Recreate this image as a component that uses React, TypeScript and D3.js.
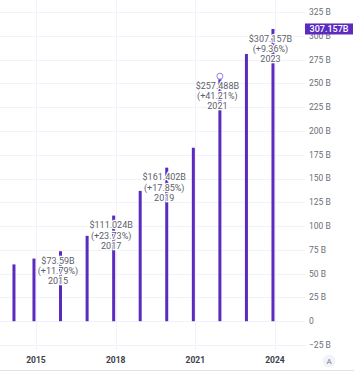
import React from 'react';
import * as d3 from 'd3';

// Annual revenue (fiscal years), billions USD
const fiscalYears = [2013, 2014, 2015, 2016, 2017, 2018, 2019, 2020, 2021, 2022, 2023];
const plotDates = ['2014-03-04', '2014-12-04', '2015-12-04', '2016-12-04', '2017-12-04', '2018-12-04',
  '2019-12-04', '2020-12-04', '2021-12-04', '2022-12-04', '2023-12-04'];
const revenues = [59.7, 65.83, 73.59, 89.73, 111.024, 136.96, 161.402, 182.34, 257.488, 280.87, 307.157];

const annotatedYears = [2015, 2017, 2019, 2021, 2023];
const annotationValues = ['$73.59B', '$111.024B', '$161.402B', '$257.488B', '$307.157B'];
const annotationGrowth = ['(+11.79%)', '(+23.73%)', '(+17.85%)', '(+41.21%)', '(+9.36%)'];

const priceTicks = [-25, 0, 25, 50, 75, 100, 125, 150, 175, 200, 225, 250, 275, 300, 325];
const timeTicks = ['2015', '2018', '2021', '2024'];
const markerYear = 2021;
const lastValueLabel = '307.157B';

const W = 354;
const H = 373;
const plotRight = 305;
const BAR = '#5b2bc0';
const FONT = 'Roboto, "Noto Sans", sans-serif';

export default function App() {
  const parse = d3.timeParse('%Y-%m-%d');
  const x = d3.scaleTime()
    .domain([new Date(2015, 0, 1), new Date(2024, 0, 1)])
    .range([36, 275]);
  const y = d3.scaleLinear().domain([-25, 325]).range([345, 12]);

  const bars = fiscalYears.map((yr, i) => ({
    yr,
    cx: x(parse(plotDates[i]) as Date),
    v: revenues[i],
  }));

  const last = bars[bars.length - 1];

  return (
    <div style={{ position: 'fixed', left: 0, top: 0, width: W, height: H, background: '#fff' }}>
      <svg width={W} height={H} style={{ display: 'block', fontFamily: FONT }}>
        <rect width={W} height={H} fill="#fff" />
        {/* grid */}
        {priceTicks.map(t => (
          <line key={'h' + t} x1={0} x2={plotRight} y1={Math.round(y(t)) + 0.5} y2={Math.round(y(t)) + 0.5}
            stroke="#f0f3fa" />
        ))}
        {timeTicks.map(t => {
          const px = Math.round(x(new Date(+t, 0, 1))) + 0.5;
          return <line key={'v' + t} x1={px} x2={px} y1={0} y2={350} stroke="#f0f3fa" />;
        })}

        {/* bars */}
        {bars.map(b => (
          <rect key={b.yr} x={b.cx - 1.5} y={y(b.v)} width={3} height={y(0) - y(b.v)} fill={BAR} />
        ))}

        {/* hover marker */}
        {bars.filter(b => b.yr === markerYear).map(b => (
          <circle key="mk" cx={b.cx} cy={y(b.v)} r={3} fill="#fff" stroke="#9a7fe0" strokeWidth={1} />
        ))}

        {/* annotations */}
        {annotatedYears.map((yr, i) => {
          const b = bars.find(d => d.yr === yr)!;
          const top = y(b.v);
          const lx = b.cx - 2.5;
          const lines = [annotationValues[i], annotationGrowth[i], String(yr)];
          return (
            <g key={'a' + yr}>
              {lines.map((s, k) => (
                <text key={k} x={lx} y={top + 9.5 + k * 10.3} dy="0.35em" textAnchor="middle"
                  fontSize={9} fill="#5d606b" stroke="#fff" strokeWidth={2.5}
                  style={{ paintOrder: 'stroke' }}>{s}</text>
              ))}
            </g>
          );
        })}

        {/* price axis */}
        {priceTicks.map(t => (
          <text key={'p' + t} x={309} y={y(t)} dy="0.35em" fontSize={8.5} fill="#6a6d78">
            {t === 0 ? '0' : `${t < 0 ? '\u2212' : ''}${Math.abs(t)} B`}
          </text>
        ))}
        <rect x={305} y={y(last.v) - 5.5} width={48} height={11} fill={BAR} />
        <text x={329} y={y(last.v)} dy="0.35em" textAnchor="middle" fontSize={9} fontWeight={500} fill="#fff">
          {lastValueLabel}
        </text>

        {/* time axis */}
        {timeTicks.map(t => (
          <text key={'t' + t} x={x(new Date(+t, 0, 1))} y={360} dy="0.35em" textAnchor="middle"
            fontSize={8.5} fontWeight={700} fill="#3b3e47">{t}</text>
        ))}
        <line x1={0} x2={W} y1={370.5} y2={370.5} stroke="#e0e3eb" />

        {/* auto-scale button */}
        <circle cx={329} cy={361} r={6.5} fill="#f0f3fa" />
        <text x={329} y={361} dy="0.35em" textAnchor="middle" fontSize={8} fill="#787b86">A</text>
      </svg>
    </div>
  );
}
